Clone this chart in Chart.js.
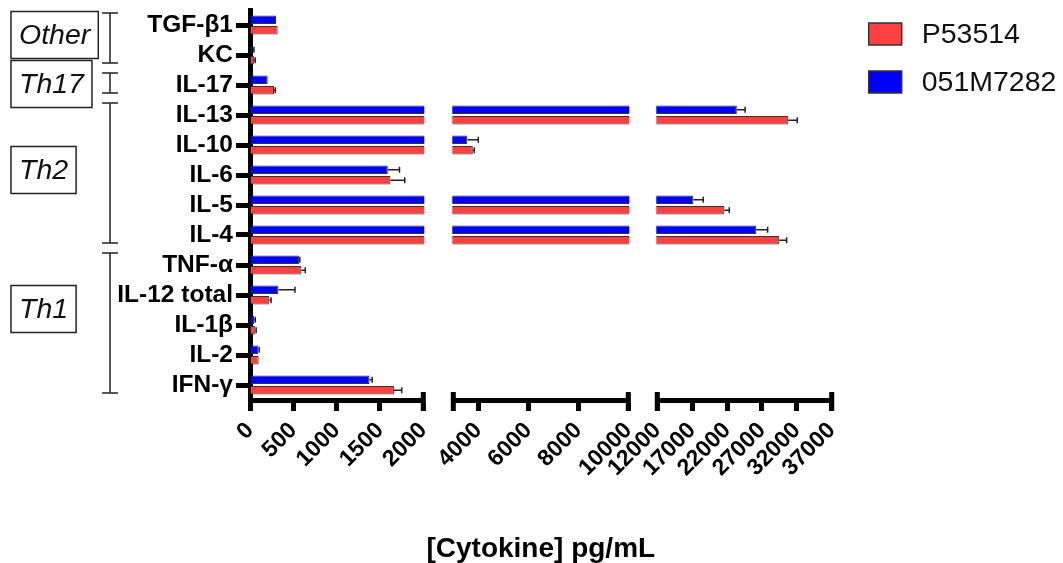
<!DOCTYPE html>
<html>
<head>
<meta charset="utf-8">
<script src="https://cdn.jsdelivr.net/npm/chart.js@4.4.1/dist/chart.umd.min.js"></script>
<style>
  html, body { margin: 0; padding: 0; background: #fff; }
  #wrap { position: relative; width: 1063px; height: 563px; overflow: hidden; }
  #wrap canvas { position: absolute; top: 0; }
</style>
</head>
<body>
<div id="wrap">
  <canvas id="segLow" width="440" height="563" style="left:0px"></canvas>
  <canvas id="segMid" width="320" height="563" style="left:380px"></canvas>
  <canvas id="segHigh" width="483" height="563" style="left:580px"></canvas>
</div>
<script>
// cytokines, top to bottom
const cytokines = ['TGF-β1', 'KC', 'IL-17', 'IL-13', 'IL-10', 'IL-6', 'IL-5', 'IL-4',
                   'TNF-α', 'IL-12 total', 'IL-1β', 'IL-2', 'IFN-γ'];

// pg/mL
const p53514    = [319, 45, 277, 30770, 3780, 1620, 21600, 29480, 592, 223, 61, 100, 1661];
const p53514Err = [0, 15, 15, 1290, 60, 166, 720, 1060, 46, 20, 10, 0, 90];
const m7282     = [300, 20, 204, 23400, 3560, 1590, 17160, 26180, 565, 327, 46, 96, 1380];
const m7282Err  = [0, 25, 0, 1190, 440, 135, 1430, 1640, 10, 192, 15, 10, 30];

// broken x axis: three segments
const ticksLow  = [0, 500, 1000, 1500, 2000];
const ticksMid  = [4000, 6000, 8000, 10000];
const ticksHigh = [12000, 17000, 22000, 27000, 32000, 37000];

const groups = [
  { name: 'Other', first: 'TGF-β1', last: 'KC' },
  { name: 'Th17', first: 'IL-17', last: 'IL-17' },
  { name: 'Th2', first: 'IL-13', last: 'IL-4' },
  { name: 'Th1', first: 'TNF-α', last: 'IFN-γ' }
];
const boxShift = { Other: -3, Th17: 1, Th2: -3, Th1: -14 };

const FONT = 'Arial, Helvetica, sans-serif';
Chart.defaults.font.family = FONT;
Chart.defaults.color = '#000';

// one-sided error bars
const errorBars = {
  id: 'errorBars',
  afterDatasetsDraw(chart) {
    const ctx = chart.ctx, a = chart.chartArea, xs = chart.scales.x;
    ctx.save();
    ctx.beginPath();
    ctx.rect(a.left, a.top - 5, a.right - a.left + 2, a.bottom - a.top + 10);
    ctx.clip();
    ctx.strokeStyle = '#222';
    ctx.lineWidth = 1.5;
    chart.data.datasets.forEach((ds, di) => {
      chart.getDatasetMeta(di).data.forEach((bar, i) => {
        const e = ds.errors[i];
        if (!e) return;
        const x1 = xs.getPixelForValue(ds.data[i]);
        const x2 = xs.getPixelForValue(ds.data[i] + e);
        const h = bar.height * 0.35;
        ctx.beginPath();
        ctx.moveTo(x1, bar.y); ctx.lineTo(x2, bar.y);
        ctx.moveTo(x2, bar.y - h); ctx.lineTo(x2, bar.y + h);
        ctx.stroke();
      });
    });
    ctx.restore();
  }
};

// end caps where the axis is broken
const axisCaps = {
  id: 'axisCaps',
  afterDraw(chart, args, opts) {
    const ctx = chart.ctx, a = chart.chartArea;
    ctx.save();
    ctx.fillStyle = '#000';
    const xs = opts.left ? [a.left, a.right] : [a.right];
    xs.forEach(x => ctx.fillRect(x - 2.5, a.bottom - 8, 5, 19));
    ctx.restore();
  }
};

// shared x title, centred under the middle segment
const axisTitle = {
  id: 'axisTitle',
  afterDraw(chart, args, opts) {
    const ctx = chart.ctx, a = chart.chartArea;
    ctx.save();
    ctx.font = 'bold 28px ' + FONT;
    ctx.fillStyle = '#000';
    ctx.textAlign = 'center';
    ctx.textBaseline = 'middle';
    ctx.fillText(opts.text, (a.left + a.right) / 2, chart.height - 14);
    ctx.restore();
  }
};

// Th1 / Th2 / ... brackets and boxes
const groupLabels = {
  id: 'groupLabels',
  afterDraw(chart) {
    const ctx = chart.ctx, ys = chart.scales.y;
    ctx.save();
    ctx.strokeStyle = '#222';
    ctx.lineWidth = 1.5;
    ctx.font = 'italic 28.5px ' + FONT;
    ctx.textAlign = 'center';
    ctx.textBaseline = 'middle';
    groups.forEach(g => {
      const top = ys.getPixelForValue(cytokines.indexOf(g.first)) - 12;
      const bot = ys.getPixelForValue(cytokines.indexOf(g.last)) + 8;
      ctx.beginPath();
      ctx.moveTo(110, top); ctx.lineTo(110, bot);
      ctx.moveTo(102, top); ctx.lineTo(118, top);
      ctx.moveTo(102, bot); ctx.lineTo(118, bot);
      ctx.stroke();

      const w = ctx.measureText(g.name).width + 16;
      const cy = (top + bot) / 2 + (boxShift[g.name] || 0);
      ctx.strokeRect(11, cy - 23.5, w, 47);
      ctx.fillStyle = '#111';
      ctx.fillText(g.name, 11 + w / 2, cy + 1);
    });
    ctx.restore();
  }
};

const sideLegend = {
  id: 'sideLegend',
  afterDraw(chart) {
    const ctx = chart.ctx, a = chart.chartArea;
    ctx.save();
    ctx.font = '28.5px ' + FONT;
    ctx.textBaseline = 'middle';
    chart.data.datasets.slice().reverse().forEach((ds, i) => {
      const x = a.right + 37, yc = a.top + 24 + i * 48;
      ctx.fillStyle = ds.backgroundColor;
      ctx.fillRect(x, yc - 11, 33, 22);
      ctx.strokeStyle = '#333';
      ctx.lineWidth = 1.5;
      ctx.strokeRect(x, yc - 11, 33, 22);
      ctx.fillStyle = '#111';
      ctx.fillText(ds.label, x + 53, yc + 1);
    });
    ctx.restore();
  }
};

function segment(id, min, max, ticks, opts) {
  return new Chart(document.getElementById(id), {
    type: 'bar',
    data: {
      labels: cytokines,
      datasets: [
        { label: '051M7282', data: m7282, errors: m7282Err, backgroundColor: '#0000ff',
          borderColor: '#333', borderWidth: 1, clip: 1 },
        { label: 'P53514', data: p53514, errors: p53514Err, backgroundColor: '#ff4040',
          borderColor: '#333', borderWidth: 1, clip: 1 }
      ]
    },
    options: {
      indexAxis: 'y',
      responsive: false,
      animation: false,
      categoryPercentage: 0.7,
      barPercentage: 0.8,
      layout: { padding: opts.padding },
      plugins: {
        legend: { display: false },
        tooltip: { enabled: false },
        axisCaps: { left: opts.capLeft },
        axisTitle: { text: opts.title }
      },
      scales: {
        x: {
          min: min,
          max: max,
          afterBuildTicks: s => { s.ticks = ticks.map(v => ({ value: v })); },
          afterFit: s => { s.height = 163; s.paddingLeft = 0; s.paddingRight = 0; },
          border: { width: 5, color: '#000' },
          grid: { drawOnChartArea: false, tickLength: 11, tickWidth: 5, tickColor: '#000' },
          ticks: {
            autoSkip: false, minRotation: 45, maxRotation: 45, padding: 6,
            font: { size: 23, weight: 'bold' },
            callback: v => String(v)
          }
        },
        y: opts.showY ? {
          afterFit: s => { s.width = 250; s.paddingTop = 0; s.paddingBottom = 0; },
          border: { width: 5, color: '#000' },
          grid: { drawOnChartArea: false, offset: false, tickLength: 14, tickWidth: 5, tickColor: '#000' },
          ticks: { autoSkip: false, padding: 3, font: { size: 24.5, weight: 'bold' } }
        } : { display: false }
      }
    },
    plugins: opts.plugins
  });
}

segment('segLow', 0, 2000, ticksLow, {
  padding: { left: 0, right: 16.7, top: 10, bottom: 0 },
  showY: true, capLeft: false,
  plugins: [errorBars, axisCaps, groupLabels]
});
segment('segMid', 3000, 10000, ticksMid, {
  padding: { left: 73.3, right: 71.7, top: 10, bottom: 0 },
  capLeft: true, title: '[Cytokine] pg/mL',
  plugins: [errorBars, axisCaps, axisTitle]
});
segment('segHigh', 12000, 37000, ticksHigh, {
  padding: { left: 77.3, right: 231.3, top: 10, bottom: 0 },
  capLeft: true,
  plugins: [errorBars, axisCaps, sideLegend]
});
</script>
</body>
</html>
